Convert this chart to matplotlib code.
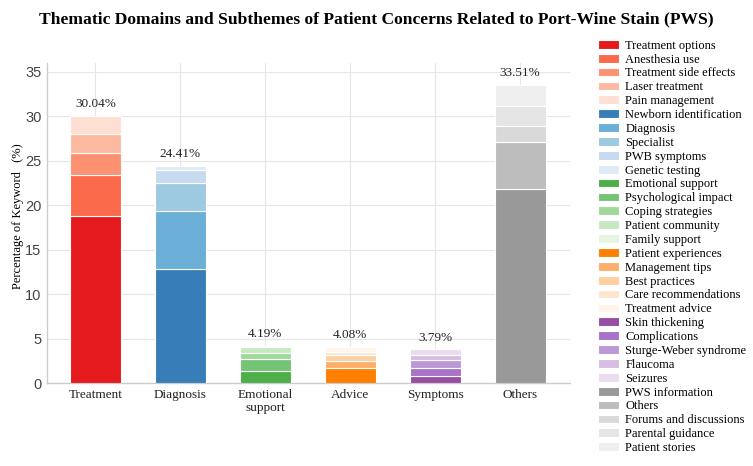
import numpy as np
import matplotlib
matplotlib.use("Agg")
import matplotlib.pyplot as plt

# domains and their subtheme shares (%)
domains = ["Treatment", "Diagnosis", "Emotional\nsupport", "Advice", "Symptoms", "Others"]
totals = [30.04, 24.41, 4.19, 4.08, 3.79, 33.51]

sub_treatment = ["Treatment options", "Anesthesia use", "Treatment side effects",
                 "Laser treatment", "Pain management"]
sub_diagnosis = ["Newborn identification", "Diagnosis", "Specialist",
                 "PWB symptoms", "Genetic testing"]
sub_emotional = ["Emotional support", "Psychological impact", "Coping strategies",
                 "Patient community", "Family support"]
sub_advice = ["Patient experiences", "Management tips", "Best practices",
              "Care recommendations", "Treatment advice"]
sub_symptoms = ["Skin thickening", "Complications", "Sturge-Weber syndrome",
                "Flaucoma", "Seizures"]
sub_others = ["PWS information", "Others", "Forums and discussions",
              "Parental guidance", "Patient stories"]

val_treatment = [18.80, 4.60, 2.45, 2.20, 1.99]
val_diagnosis = [12.87, 6.45, 3.19, 1.43, 0.47]
val_emotional = [1.33, 1.35, 0.74, 0.63, 0.14]
val_advice = [1.65, 0.79, 0.68, 0.41, 0.55]
val_symptoms = [0.80, 0.93, 0.82, 0.64, 0.60]
val_others = [21.87, 5.25, 1.77, 2.28, 2.34]

col_treatment = ["#e41a1c", "#fb6a4a", "#fc9272", "#fcbba1", "#fee0d2"]
col_diagnosis = ["#377eb8", "#6baed6", "#9ecae1", "#c6dbef", "#deebf7"]
col_emotional = ["#4daf4a", "#74c476", "#a1d99b", "#c7e9c0", "#e5f5e0"]
col_advice = ["#ff7f00", "#fdae6b", "#fdd0a2", "#fee6ce", "#fff5eb"]
col_symptoms = ["#984ea3", "#a673c9", "#bb98d6", "#d5bde3", "#ebdcef"]
col_others = ["#999999", "#bdbdbd", "#d9d9d9", "#e5e5e5", "#efefef"]

subs = [sub_treatment, sub_diagnosis, sub_emotional, sub_advice, sub_symptoms, sub_others]
vals = [val_treatment, val_diagnosis, val_emotional, val_advice, val_symptoms, val_others]
cols = [col_treatment, col_diagnosis, col_emotional, col_advice, col_symptoms, col_others]

serif = ["Liberation Serif", "DejaVu Serif"]
sans = ["Liberation Sans", "DejaVu Sans"]

fig = plt.figure(figsize=(7.53, 4.66), dpi=100)
ax = fig.add_axes([0.0624, 0.178, 0.695, 0.687])

x = np.arange(len(domains))
for i in range(len(domains)):
    bottom = 0
    for name, v, c in zip(subs[i], vals[i], cols[i]):
        ax.bar(x[i], v, 0.6, bottom=bottom, color=c, edgecolor="white",
               linewidth=0.8, label=name, zorder=3)
        bottom += v
    ax.text(x[i], bottom + 0.65, f"{totals[i]:.2f}%", ha="center", va="bottom",
            fontsize=9.5, family=serif, color="#222222")

ax.set_xlim(-0.57, 5.59)
ax.set_ylim(0, 36)
ax.set_yticks(range(0, 36, 5))
ax.set_xticks(x)
ax.set_xticklabels(domains, family=serif, fontsize=9.5, color="#222222")
for t in ax.get_yticklabels():
    t.set_family(sans)
    t.set_fontsize(10.5)
    t.set_color("#444444")
ax.tick_params(length=0, pad=4)
ax.grid(True, color="#e6e6e6", linewidth=0.8, zorder=0)
for s in ["top", "right"]:
    ax.spines[s].set_visible(False)
for s in ["left", "bottom"]:
    ax.spines[s].set_color("#cccccc")
    ax.spines[s].set_linewidth(1.0)

ax.set_ylabel("Percentage of Keyword   (%)", family=serif, fontsize=9)
ax.yaxis.set_label_coords(-0.044, 0.52)
fig.suptitle("Thematic Domains and Subthemes of Patient Concerns Related to Port-Wine Stain (PWS)",
             family=serif, fontweight="bold", fontsize=12.6, x=0.5, y=0.975)

leg = ax.legend(loc="upper left", bbox_to_anchor=(1.043, 1.088), frameon=False,
                prop={"family": serif, "size": 9}, handlelength=1.7, handleheight=0.7,
                labelspacing=0.15, handletextpad=0.5, borderaxespad=0)

fig.savefig("out.png", dpi=100)
